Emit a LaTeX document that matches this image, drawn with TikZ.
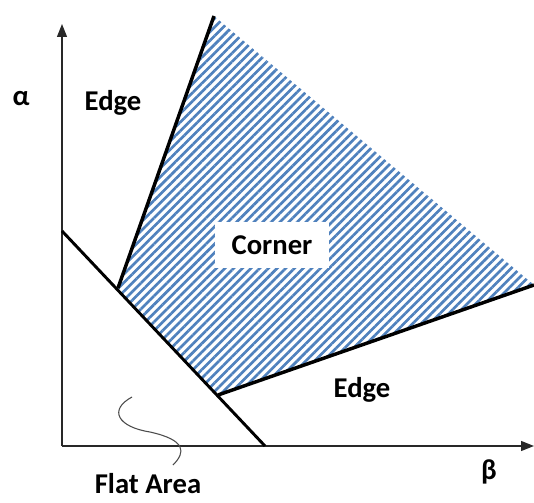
\documentclass[tikz,border=0pt]{standalone}
\usepackage{fontspec}
\setmainfont{Carlito}
\usetikzlibrary{arrows.meta,patterns.meta}
\definecolor{hatchB}{HTML}{4F81BD}
\definecolor{axeC}{RGB}{40,40,40}
\tikzset{
  axe/.style={-{Triangle[length=3.4mm,width=2.6mm]}, line width=1.1pt, draw=axeC},
  bord/.style={line width=2.6pt, draw=black},
  lbl/.style={font=\fontsize{21.5}{26}\selectfont\bfseries, inner sep=1pt},
  zone/.style={pattern={Lines[angle=45,distance=4.6pt,line width=2pt]}, pattern color=hatchB},
}

\begin{document}
\begin{tikzpicture}[x=0.75pt,y=-0.75pt]
  \useasboundingbox (0,0) rectangle (534,502);
  % axes
  \coordinate (O) at (62,446);
  \coordinate (ytip) at (62,24);
  \coordinate (xtip) at (534,446);
  % region limits
  \coordinate (diagA) at (62,231);
  \coordinate (diagB) at (265,446);
  \coordinate (edgeLow) at (118,288);
  \coordinate (edgeTop) at (214,16);
  \coordinate (cornLow) at (218,395);
  \coordinate (cornRight) at (534,285);

  \fill[zone] (edgeLow) -- (edgeTop) -- (cornRight) -- (cornLow) -- cycle;
  \draw[axe] (O) -- (ytip);
  \draw[axe] (O) -- (xtip);
  \draw[line width=2.2pt] (diagA) -- (diagB);
  \draw[bord] (edgeLow) -- (edgeTop);
  \draw[bord] (cornLow) -- (cornRight);
  \draw[line width=0.8pt, draw=black!70] (132,397) .. controls (108,410) and (118,427) .. (150,432)
    .. controls (186,440) and (186,452) .. (173,465);

  \node[lbl, fill=white, minimum width=86pt, minimum height=34pt] (corner) at (272,245) {Corner};
  \node[lbl] (alpha) at (21,99) {α};
  \node[lbl] (edgeA) at (113,103) {Edge};
  \node[lbl] (edgeB) at (362,390) {Edge};
  \node[lbl] (beta) at (489,472) {β};
  \node[lbl] (flat) at (148,484) {Flat Area};
\end{tikzpicture}
\end{document}
